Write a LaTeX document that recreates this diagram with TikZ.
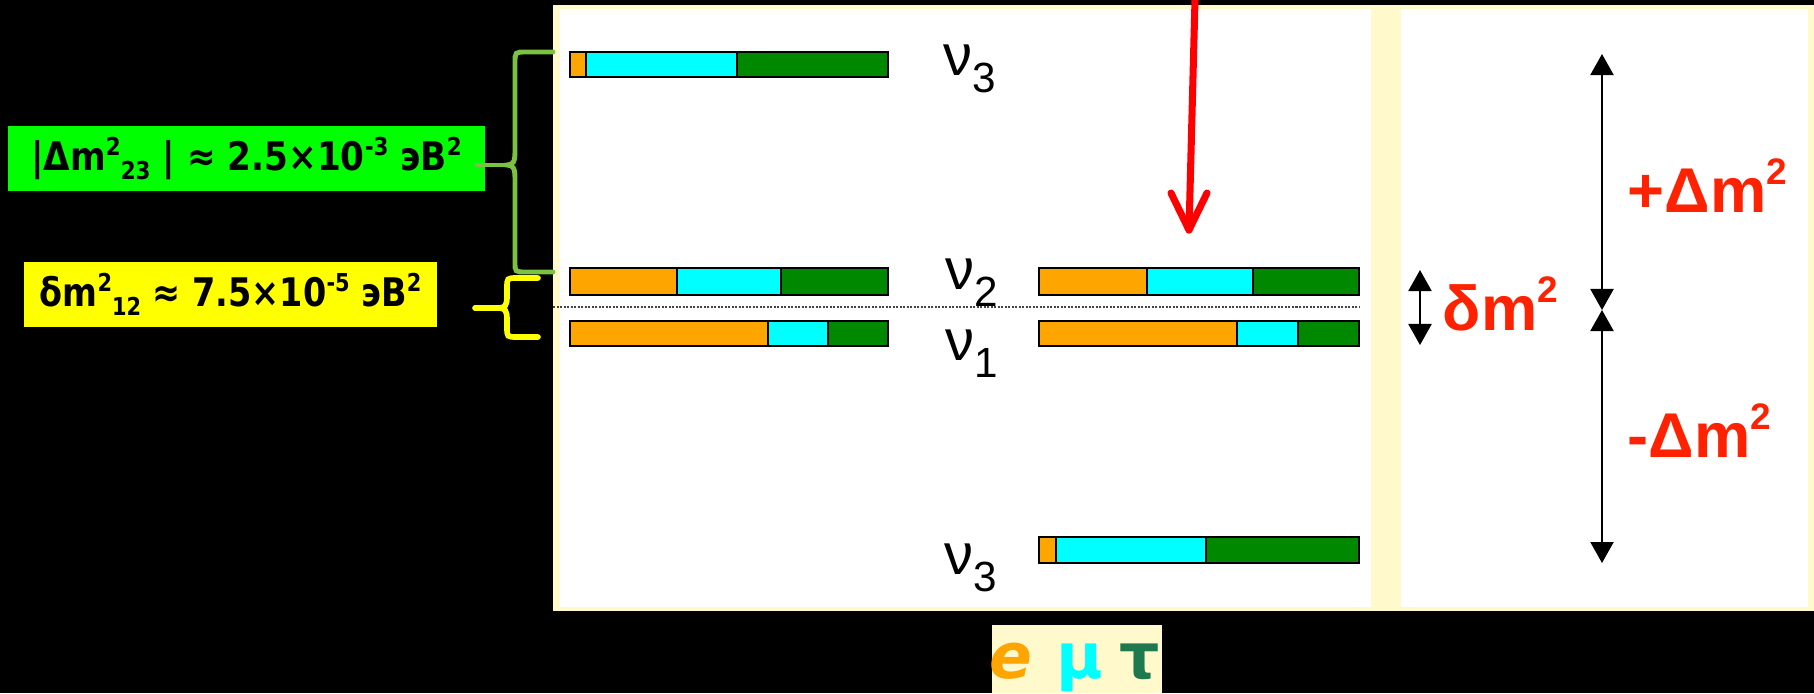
\documentclass[tikz,border=0pt]{standalone}
\usepackage{fontspec}
\setmainfont{DejaVu Sans}
\newfontfamily\arialf{Liberation Sans}
\usetikzlibrary{arrows.meta}
\definecolor{nuorange}{HTML}{FFA500}
\definecolor{nucyan}{HTML}{00FFFF}
\definecolor{nugreen}{HTML}{008800}
\definecolor{cream}{HTML}{FFF9CC}
\definecolor{boxgreen}{HTML}{00FF00}
\definecolor{boxyellow}{HTML}{FFFF00}
\definecolor{bracegreen}{HTML}{7CC242}
\definecolor{labred}{HTML}{FF2200}
\definecolor{taugreen}{HTML}{1E7A4E}
\definecolor{dotgray}{HTML}{444444}
\newcommand\bup[1]{\raisebox{0.15cm}{\fontsize{7}{7}\selectfont #1}}
\newcommand\bdn[1]{\raisebox{-0.09cm}{\fontsize{7}{7}\selectfont #1}}
\newcommand\nusub[1]{\raisebox{-0.17cm}{\fontsize{12}{12}\selectfont #1}}
\newcommand\rsup[1]{\raisebox{0.27cm}{\fontsize{10.5}{10.5}\selectfont #1}}
\newcommand\mixbar[6]{%
  \fill[nuorange] (#3,#1) rectangle (#4,#2);
  \fill[nucyan] (#4,#1) rectangle (#5,#2);
  \fill[nugreen] (#5,#1) rectangle (#6,#2);
  \draw[barline] (#3,#1) rectangle (#6,#2) (#4,#1) -- (#4,#2) (#5,#1) -- (#5,#2);
}
\tikzset{
  barline/.style={draw=black, line width=0.6pt},
  nulab/.style={anchor=base west, inner sep=0pt, font=\arialf\fontsize{16.5}{16.5}\selectfont},
  redlab/.style={anchor=base west, inner sep=0pt, text=labred, font=\arialf\bfseries\fontsize{18}{18}\selectfont},
  boxtext/.style={inner sep=0pt, text=black, font=\bfseries\fontsize{11.2}{12}\selectfont},
  dblarrow/.style={line width=0.6pt, {Triangle[width=0.23cm,length=0.21cm]}-{Triangle[width=0.23cm,length=0.21cm]}},
  redarr/.style={draw=red, line width=2pt, line cap=round, line join=round},
  gbrace/.style={draw=bracegreen, line width=1.4pt, line cap=round},
  ybrace/.style={draw=boxyellow, line width=1.6pt, line cap=round},
  leg/.style={inner sep=0pt, anchor=base, font=\bfseries\fontsize{18}{18}\selectfont}
}
\begin{document}
\begin{tikzpicture}[x=0.01cm, y=-0.01cm]
\useasboundingbox (0,0) rectangle (1814,693);
\fill[black] (0,0) rectangle (1814,693);
% panel
\fill[cream] (553,5) rectangle (1814,611);
\fill[white] (560,9) rectangle (1808,607);
\fill[cream] (1371,9) rectangle (1401,607);
% dotted line
\draw[dotgray, line width=0.7pt, dash pattern=on 0.02cm off 0.015cm] (553,307) -- (1359,307);
% bars
\mixbar{52}{77}{570}{586}{737}{888}
\mixbar{268}{295}{570}{677}{781}{888}
\mixbar{321}{346}{570}{768}{828}{888}
\mixbar{268}{295}{1039}{1147}{1253}{1359}
\mixbar{321}{346}{1039}{1237}{1298}{1359}
\mixbar{537}{563}{1039}{1056}{1206}{1359}
% nu labels
\node[nulab] (nu3a) at (943,75) {ν\nusub{3}};
\node[nulab] (nu2) at (945,289) {ν\nusub{2}};
\node[nulab] (nu1) at (945,360) {ν\nusub{1}};
\node[nulab] (nu3b) at (944,574) {ν\nusub{3}};
% red arrow
\coordinate (rTop) at (1195,0);
\coordinate (rTip) at (1189,230);
\coordinate (rWl) at (1171,193);
\coordinate (rWr) at (1207,193);
\draw[redarr] (rTop) -- (rTip);
\draw[redarr] (rWl) -- (rTip) -- (rWr);
% delta arrows
\coordinate (dTop) at (1420,270);
\coordinate (dBot) at (1420,345);
\draw[dblarrow] (dTop) -- (dBot);
\coordinate (LTop) at (1602,54);
\coordinate (LMid) at (1602,310);
\coordinate (LBot) at (1602,563);
\draw[dblarrow] (LTop) -- (LMid);
\draw[dblarrow] (LMid) -- (LBot);
\node[redlab] (dm) at (1442,330) {δm\rsup{2}};
\node[redlab] (pdm) at (1627,212) {+Δm\rsup{2}};
\node[redlab] (mdm) at (1627,457) {-Δm\rsup{2}};
% left boxes
\node[fill=boxgreen, minimum width=4.77cm, minimum height=0.65cm, inner sep=0pt] (gbox) at (246.5,158.5) {};
\node[boxtext] (gtext) at (246.5,158.5) {\scalebox{0.87}[1]{|Δm\bup{2}\bdn{23}\ |\ ≈ 2.5×10\bup{-3} эВ\bup{2}}};
\node[fill=boxyellow, minimum width=4.13cm, minimum height=0.65cm, inner sep=0pt] (ybox) at (230.5,294.5) {};
\node[boxtext] (ytext) at (230.5,294.5) {\scalebox{0.85}[1]{δm\bup{2}\bdn{12} ≈ 7.5×10\bup{-5} эВ\bup{2}}};
% braces
\draw[ybrace] (538,278) -- (517,278) .. controls (507,278) .. (507,288) -- (507,297) .. controls (507,305) and (505,308) .. (499,308) .. controls (505,308) and (507,311) .. (507,319) -- (507,327) .. controls (507,337) .. (517,337) -- (538,337);
\draw[ybrace] (499,308) -- (475,308);
\draw[gbrace] (553,52) -- (526,52) .. controls (515,52) .. (515,63) -- (515,152) .. controls (515,162) and (513,165) .. (507,165) .. controls (513,165) and (515,168) .. (515,178) -- (515,262) .. controls (515,272) .. (526,272) -- (553,272);
\draw[gbrace] (507,165) -- (477,165);
% legend
\node[fill=cream, minimum width=1.70cm, minimum height=0.68cm, inner sep=0pt] (legend) at (1077,659) {};
\node[leg, text=nuorange, font=\bfseries\itshape\fontsize{18}{18}\selectfont] (le) at (1011,678) {e};
\node[leg, text=nucyan] (lmu) at (1080,678) {μ};
\node[leg, text=taugreen] (ltau) at (1140,678) {τ};
\end{tikzpicture}
\end{document}
